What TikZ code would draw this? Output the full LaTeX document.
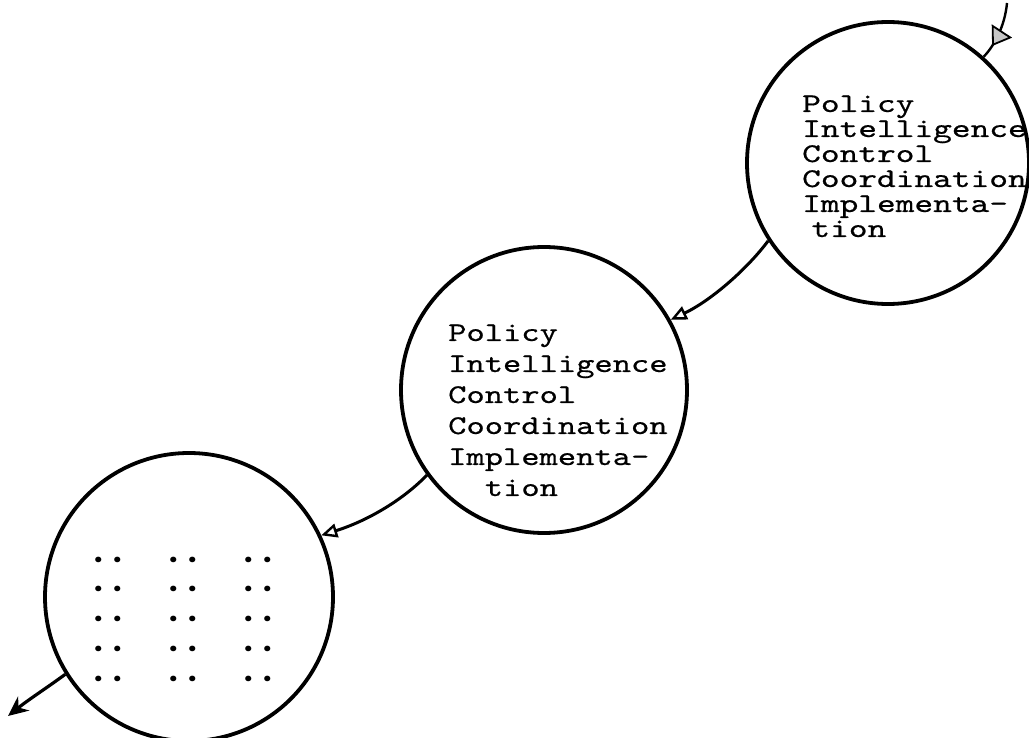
\documentclass[tikz,border=0pt]{standalone}
\usepackage{fontspec}
\newfontfamily\tw{lmmono10-regular.otf}[FakeBold=0.5]
\newfontfamily\dotf{Poppins}
\usetikzlibrary{arrows.meta,decorations.markings}
\newcommand\twbox[3]{\scalebox{#1}[1]{\parbox[t]{200pt}{\tw\fontsize{27}{#2}\selectfont #3}}}
\newcommand\dt{\makebox[18.75pt]{\bfseries .}}
\newcommand\dotrow{\dt\dt\hspace{37.5pt}\dt\dt\hspace{37.5pt}\dt\dt}
\begin{document}
\begin{tikzpicture}[x=1pt,y=-1pt,
  ring/.style={draw, circle, line width=3.8pt, inner sep=0pt},
  flow/.style={line width=3pt, -{Triangle[open,length=16pt,width=14pt,line width=2.4pt]}},
  lbl/.style={anchor=base west, inner sep=0pt},
]
\useasboundingbox (0,0) rectangle (1029,738);
\node[ring, minimum size=282pt] (c1) at (888,163) {};
\node[ring, minimum size=286pt] (c2) at (544,390) {};
\node[ring, minimum size=288pt] (c3) at (189,597) {};

\node[lbl] (t1) at (802,112) {\twbox{1.32}{25}{Policy\\Intelligence\\Control\\Coordination\\Implementa-\\\hspace*{7pt}tion}};
\node[lbl] (t2) at (448,341) {\twbox{1.29}{31}{Policy\\Intelligence\\Control\\Coordination\\Implementa-\\\hspace*{28.4pt}tion}};
\node[lbl] (d) at (89.6,562) {\parbox[t]{250pt}{\dotf\fontsize{30}{29.8}\selectfont \dotrow\\\dotrow\\\dotrow\\\dotrow\\\dotrow}};

\coordinate (inA) at (1007,3);
\draw[line width=2.4pt, postaction={decorate}, decoration={markings, mark=at position 0.77 with {\arrow{Triangle[length=18pt,width=24pt,fill=gray!45,line width=1.8pt]}}}]
  (inA) .. controls (1005,25) and (995,45) .. (c1.48);
\draw[flow] (c1.213) .. controls (748,268) and (712,300) .. (c2.29);
\draw[flow] (c2.216) .. controls (405,498) and (370,520) .. (c3.25);
\coordinate (outD) at (8,716);
\draw[line width=3.2pt, -{Stealth[length=20pt,width=18pt]}] (c3.212) .. controls (48,687) and (28,700) .. (outD);
\end{tikzpicture}
\end{document}
